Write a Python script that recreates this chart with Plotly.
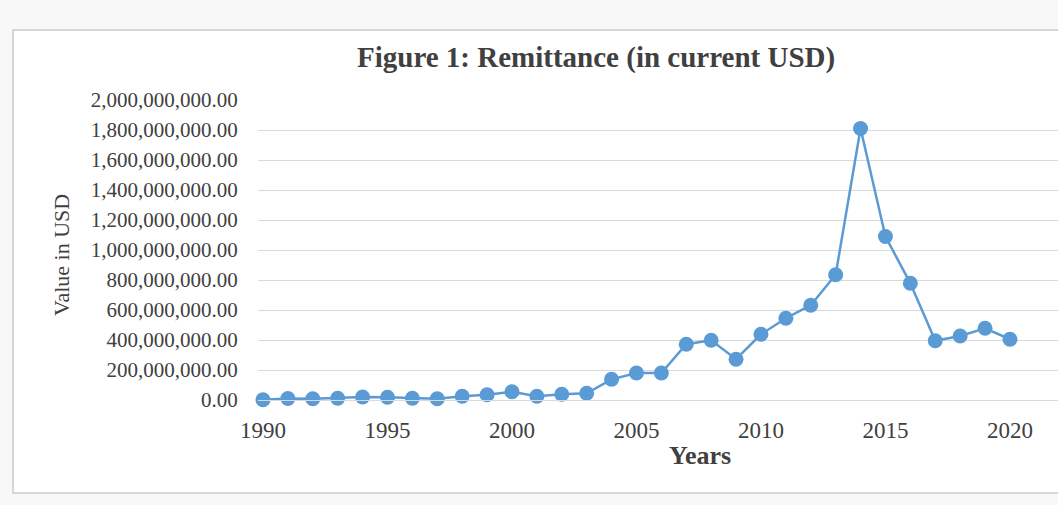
import plotly.graph_objects as go

years = list(range(1990, 2021))
remittance_usd = [
    2e6, 10e6, 8e6, 12e6, 20e6, 18e6, 12e6, 8e6, 25e6, 35e6,
    55e6, 25e6, 38e6, 45e6, 138e6, 180e6, 180e6, 372e6, 398e6, 272e6,
    438e6, 545e6, 632e6, 835e6, 1810e6, 1090e6, 778e6, 395e6, 427e6, 478e6,
    405e6,
]
y_ticks = [i * 200_000_000 for i in range(11)]
x_ticks = [1990, 1995, 2000, 2005, 2010, 2015, 2020]

title_text = "Figure 1: Remittance (in current USD)"
x_title = "Years"
y_title = "Value in USD"

SERIF = "Liberation Serif, Times New Roman, serif"
BLUE = "#5b9bd5"
GRID = "#d9d9d9"
TXT = "#404040"

# plot area in pixels
L, R, T, B = 258, 0, 100, 105
W, H = 1058, 505
pw, ph = W - L - R, H - T - B


def px(x):
    return (x - L) / pw


def py(y):
    return (H - B - y) / ph


fig = go.Figure()
fig.add_trace(go.Scatter(
    x=years, y=remittance_usd, mode="lines+markers",
    line=dict(color=BLUE, width=2.5),
    marker=dict(color=BLUE, size=15),
    cliponaxis=False, showlegend=False,
))

fig.update_layout(
    width=W, height=H,
    margin=dict(l=L, r=R, t=T, b=B, pad=0),
    paper_bgcolor="#f8f8f8",
    plot_bgcolor="white",
    font=dict(family=SERIF, color=TXT),
    xaxis=dict(
        range=[1989.8, 2021.93], tickmode="array", tickvals=x_ticks,
        showgrid=False, zeroline=False,
        showline=True, linecolor=GRID, linewidth=1,
        ticks="outside", ticklen=9, tickcolor="rgba(0,0,0,0)",
        tickfont=dict(family=SERIF, size=23, color=TXT),
    ),
    yaxis=dict(
        range=[0, 2e9], tickmode="array", tickvals=y_ticks,
        tickformat=",.2f",
        showgrid=True, gridcolor=GRID, gridwidth=1,
        zeroline=False, showline=False,
        ticks="outside", ticklen=15, tickcolor="rgba(0,0,0,0)",
        tickfont=dict(family=SERIF, size=21, color=TXT),
    ),
    shapes=[dict(
        type="rect", xref="paper", yref="paper", layer="below",
        x0=px(13), x1=px(1070), y0=py(493), y1=py(30),
        line=dict(color="#d6d6d6", width=2), fillcolor="white",
    )],
    annotations=[
        dict(text="<b>%s</b>" % title_text, xref="paper", yref="paper",
             x=px(596), y=py(57), xanchor="center", yanchor="middle",
             showarrow=False, font=dict(family=SERIF, size=29, color=TXT)),
        dict(text="<b>%s</b>" % x_title, xref="paper", yref="paper",
             x=px(700), y=py(455), xanchor="center", yanchor="middle",
             showarrow=False, font=dict(family=SERIF, size=26, color=TXT)),
        dict(text=y_title, xref="paper", yref="paper", textangle=-90,
             x=px(62), y=py(255), xanchor="center", yanchor="middle",
             showarrow=False, font=dict(family=SERIF, size=22, color=TXT)),
    ],
)

fig.write_html("out.html")
